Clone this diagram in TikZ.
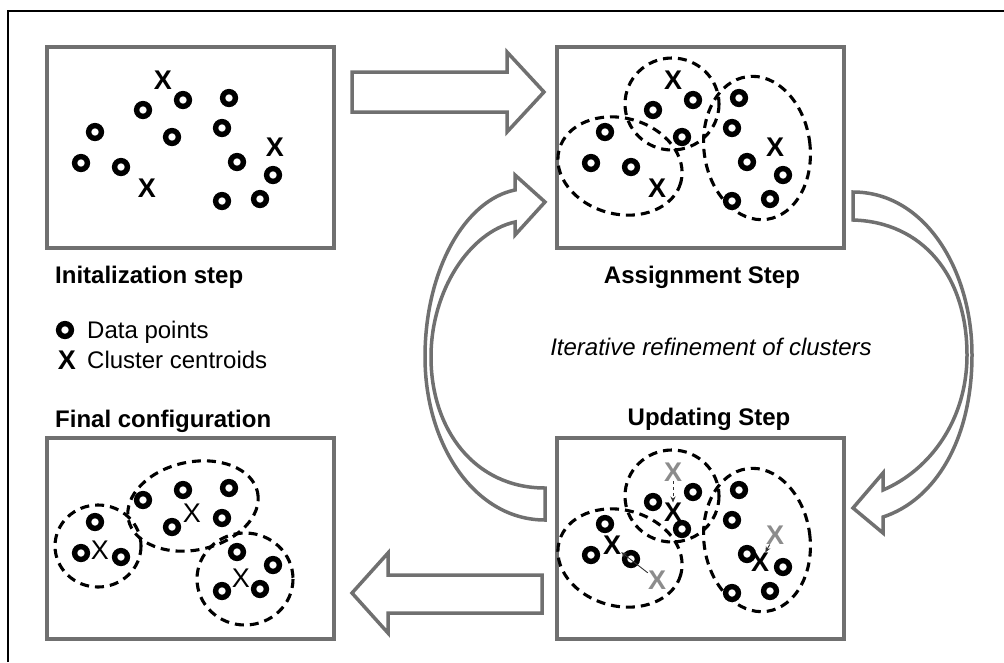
\documentclass[tikz,border=0pt]{standalone}
\usepackage{fontspec}
\setmainfont{Liberation Sans}
\usetikzlibrary{arrows.meta}
\definecolor{panelgray}{HTML}{707070}
\definecolor{oldgray}{HTML}{8C8C8C}

% the twelve data points of every panel (top-left panel coordinates)
\newcommand\datapoints{%
  \foreach \px/\py in {183/100,143/110,229/98,95/132,172/137,222/128,
                       81/163,121/167,237/162,273/175,222/201,260/199}
    \draw[ring] (\px,\py) circle (6.4);}

% cluster outlines after the assignment step
\newcommand\assignclusters{%
  \draw[clus] (672,104) ellipse (47 and 46);
  \draw[clus, rotate around={-15:(620,166)}] (620,166) ellipse (63 and 48);
  \draw[clus, rotate around={8:(757,148)}] (757,148) ellipse (53 and 72);}

\begin{document}
\begin{tikzpicture}[x=1pt,y=-1pt,
  panel/.style={draw=panelgray, line width=4pt, minimum width=287pt,
                minimum height=201pt, inner sep=0pt, outer sep=0pt},
  ring/.style={draw=black, line width=5.4pt},
  cx/.style={font=\fontsize{27}{27}\selectfont\bfseries, inner sep=0pt},
  oldcx/.style={cx, text=oldgray},
  finalcx/.style={font=\fontsize{27}{27}\selectfont, inner sep=0pt},
  clus/.style={draw=black, line width=3.1pt, dash pattern=on 9pt off 6pt},
  bigarrow/.style={draw=panelgray, line width=3.5pt, fill=white, line join=miter},
  title/.style={font=\fontsize{24}{28}\selectfont\bfseries, inner sep=0pt},
  legend/.style={font=\fontsize{24}{28}\selectfont, inner sep=0pt},
  caption/.style={font=\fontsize{24}{28}\selectfont\itshape, inner sep=0pt},
  move/.style={draw=black!80, line width=0.9pt,
               -{Stealth[length=6pt,width=5pt]}, shorten >=0pt, shorten <=0pt},
]
\useasboundingbox (0,0) rectangle (1004,662);

% outer frame
\coordinate (fbl) at (8,662);
\coordinate (ftl) at (8,11);
\coordinate (ftr) at (1004,11);
\draw[line width=1.3pt] (fbl) -- (ftl) -- (ftr);

% panels
\node[panel] (init)   at (190.5,147.5) {};
\node[panel] (assign) at (700.5,147.5) {};
\node[panel] (update) at (700.5,538.5) {};
\node[panel] (final)  at (190.5,538.5) {};

% panel titles
\node[title, anchor=base west] (tinit) at (55,283) {Initalization step};
\node[title, anchor=base] (tassign) at (702,283) {Assignment Step};
\node[title, anchor=base] (tupdate) at (709,425) {Updating Step};
\node[title, anchor=base west] (tfinal) at (55,427) {Final configuration};

% legend
\draw[ring] (65,330) circle (6.4);
\node[cx] (lx) at (67,360) {X};
\node[legend, anchor=base west] (ldata) at (87,338) {Data points};
\node[legend, anchor=base west] (lcent) at (87,368) {Cluster centroids};

% caption of the loop
\node[caption, anchor=base] (loop) at (711,355) {Iterative refinement of clusters};

% straight arrows
\draw[bigarrow] (352,72) -- (507,72) -- (507,52) -- (544,92) -- (507,132)
  -- (507,112) -- (352,112) -- cycle;
\draw[bigarrow] (542,575) -- (388,575) -- (388,553) -- (352,593) -- (388,633)
  -- (388,613) -- (542,613) -- cycle;

% curved arrow: assignment -> updating
\draw[bigarrow] (853,192) .. controls (925,192) and (972,270) .. (972,355)
  .. controls (972,440) and (935,500) .. (883,517)
  -- (883,533) -- (853,508) -- (883,473) -- (883,490)
  .. controls (930,470) and (967,420) .. (967,355)
  .. controls (967,275) and (922,222) .. (853,220) -- cycle;

% curved arrow: updating -> assignment
\draw[bigarrow] (545,520) .. controls (475,520) and (425,445) .. (425,357)
  .. controls (425,270) and (465,200) .. (515,190)
  -- (515,175) -- (545,202) -- (515,235) -- (515,222)
  .. controls (470,232) and (431,290) .. (431,357)
  .. controls (431,430) and (475,488) .. (545,488) -- cycle;

% initialization panel
\datapoints
\node[cx] (i1) at (163,80) {X};
\node[cx] (i2) at (275,147) {X};
\node[cx] (i3) at (147,188) {X};

% assignment panel
\begin{scope}[shift={(510,0)}]
  \datapoints
\end{scope}
\assignclusters
\node[cx] (a1) at (673,80) {X};
\node[cx] (a2) at (775,147) {X};
\node[cx] (a3) at (657,188) {X};

% updating panel
\begin{scope}[shift={(510,392)}]
  \datapoints
\end{scope}
\begin{scope}[shift={(0,392)}]
  \assignclusters
\end{scope}
\node[oldcx] (o1) at (673,472) {X};
\node[oldcx] (o2) at (657,580) {X};
\node[oldcx] (o3) at (775,535) {X};
\node[cx] (n1) at (673,512) {X};
\node[cx] (n2) at (612,545) {X};
\node[cx] (n3) at (760,562) {X};
\draw[move, dashed] (o1) -- (n1);
\draw[move] (o2) -- (n2);
\draw[move] (o3) -- (n3);

% final panel
\begin{scope}[shift={(0,390)}]
  \datapoints
\end{scope}
\draw[clus] (98,546) ellipse (43 and 41);
\draw[clus, rotate around={12:(193,506)}] (193,506) ellipse (66 and 44);
\draw[clus] (245,579) ellipse (48 and 46);
\node[finalcx] (f1) at (100,550) {X};
\node[finalcx] (f2) at (192,513) {X};
\node[finalcx] (f3) at (241,578) {X};
\end{tikzpicture}
\end{document}
